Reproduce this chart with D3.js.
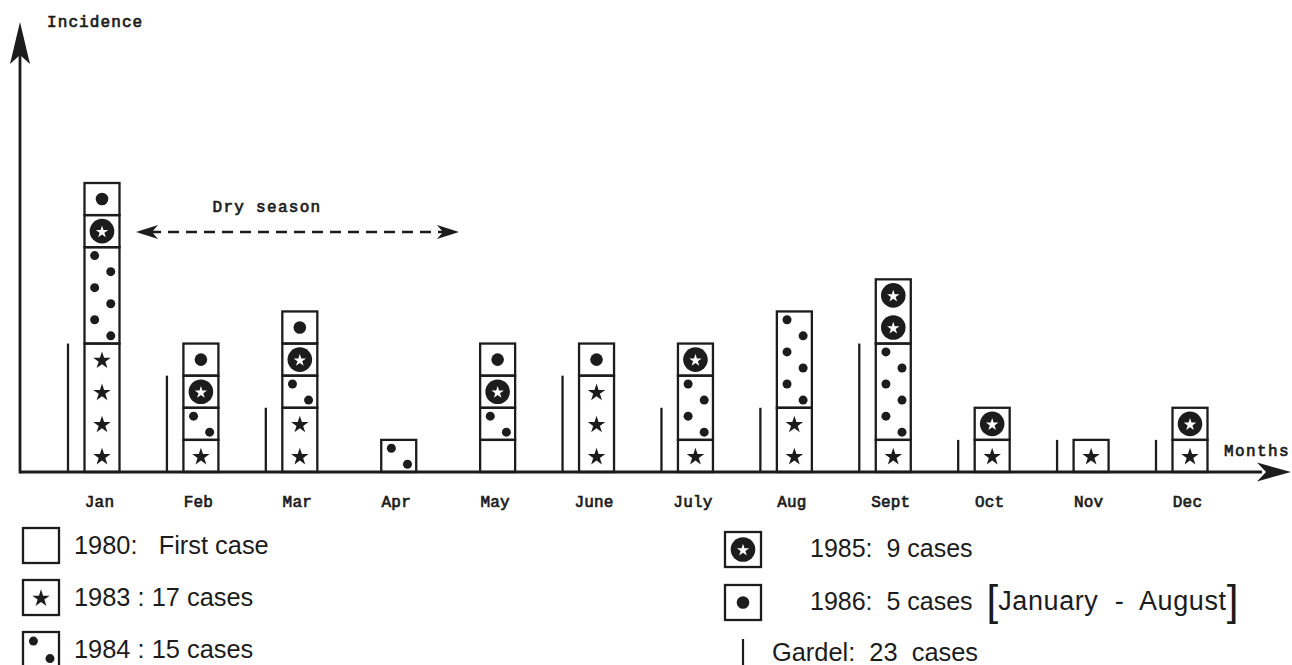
<!DOCTYPE html>
<html><head><meta charset="utf-8">
<script src="https://cdn.jsdelivr.net/npm/d3@7"></script>
<style>body{margin:0;background:#fff} svg{display:block}</style>
</head><body>
<svg id="chart" width="1292" height="665"></svg>
<script>
// ---- data ----
const months  = ["Jan","Feb","Mar","Apr","May","June","July","Aug","Sept","Oct","Nov","Dec"];
const years   = ["1980","1983","1984","1985","1986"];
const c1980   = [0,0,0,0,1,0,0,0,0,0,0,0];
const c1983   = [4,1,2,0,0,3,1,2,1,1,1,1];
const c1984   = [3,1,1,1,1,0,2,3,3,0,0,0];
const c1985   = [1,1,1,0,1,0,1,0,2,1,0,1];
const c1986   = [1,1,1,0,1,1,0,0,0,0,0,0];
const gardel  = [4,3,2,0,0,3,2,2,4,1,1,1];
const legendLeft  = [["1980","1980:   First case"],["1983","1983 : 17 cases"],["1984","1984 : 15 cases"]];
const legendRight = [["1985","1985:  9 cases"],["1986","1986:  5 cases"]];
const gardelLabel = "Gardel:  23  cases";
const periodLabel = "January  -  August";

const ink = "#1c1c1c";
const svg = d3.select("#chart");

const x = d3.scalePoint().domain(months).range([102, 1190]);
const y = d3.scaleLinear().domain([0, 9]).range([472, 183]);
const barW = 35;

const table = months.map((m, i) => ({month: m, "1980": c1980[i], "1983": c1983[i], "1984": c1984[i], "1985": c1985[i], "1986": c1986[i]}));
const stacked = d3.stack().keys(years)(table);

function drawSymbol(g, key, x0, top, w, h) {
  const cx = x0 + w / 2, cy = top + h / 2;
  if (key === "1983") {
    g.append("path").attr("d", d3.symbol().type(d3.symbolStar).size(95)())
      .attr("transform", `translate(${cx},${cy + 1})`).attr("fill", ink);
  } else if (key === "1984") {
    g.append("circle").attr("cx", x0 + w * 0.29).attr("cy", top + h * 0.26).attr("r", 4.5).attr("fill", ink);
    g.append("circle").attr("cx", x0 + w * 0.75).attr("cy", top + h * 0.76).attr("r", 4.5).attr("fill", ink);
  } else if (key === "1985") {
    g.append("circle").attr("cx", cx).attr("cy", cy).attr("r", 12.3).attr("fill", ink);
    g.append("path").attr("d", d3.symbol().type(d3.symbolStar).size(48)())
      .attr("transform", `translate(${cx},${cy + 0.8})`).attr("fill", "#fff");
  } else if (key === "1986") {
    g.append("circle").attr("cx", cx).attr("cy", cy).attr("r", 6.3).attr("fill", ink);
  }
}

// ---- Gardel lines ----
svg.append("g").selectAll("line")
  .data(months.map((m, i) => ({m, v: gardel[i]})).filter(d => d.v > 0))
  .join("line")
  .attr("x1", d => x(d.m) - 34).attr("x2", d => x(d.m) - 34)
  .attr("y1", y(0)).attr("y2", d => y(d.v))
  .attr("stroke", ink).attr("stroke-width", 2.3);

// ---- stacked blocks ----
const gb = svg.append("g");
stacked.forEach(layer => {
  layer.forEach((d, i) => {
    const n = d[1] - d[0];
    if (!n) return;
    const x0 = x(months[i]) - barW / 2;
    for (let k = 0; k < n; k++) {
      const top = y(d[0] + k + 1), bot = y(d[0] + k);
      drawSymbol(gb, layer.key, x0, top, barW, bot - top);
    }
    gb.append("rect").attr("x", x0).attr("y", y(d[1])).attr("width", barW)
      .attr("height", y(d[0]) - y(d[1]))
      .attr("fill", "none").attr("stroke", ink).attr("stroke-width", 2.3);
  });
});

// ---- axes ----
const monoFont = "'Liberation Mono', 'DejaVu Sans Mono', monospace";
function mono(sel, size, ls) {
  return sel.attr("font-family", monoFont).attr("font-size", size).attr("fill", ink)
    .attr("stroke", ink).attr("stroke-width", 0.7).attr("letter-spacing", ls);
}
const xAxis = svg.append("g").attr("transform", `translate(0,${y(0)})`)
  .call(d3.axisBottom(x).tickSize(0).tickPadding(24));
xAxis.select(".domain").remove();
mono(xAxis.selectAll("text"), 16, 0.2).attr("dx", -3);

svg.append("line").attr("x1", 20).attr("x2", 1262).attr("y1", y(0)).attr("y2", y(0))
  .attr("stroke", ink).attr("stroke-width", 2.8);
svg.append("path").attr("d", `M1291,${y(0)} L1257,${y(0) - 9.5} L1266,${y(0)} L1257,${y(0) + 9.5} Z`).attr("fill", ink);

svg.append("line").attr("x1", 20).attr("x2", 20).attr("y1", y(0) + 1.4).attr("y2", 50)
  .attr("stroke", ink).attr("stroke-width", 2.8);
svg.append("path").attr("d", `M20,22 L30,64 L20,55 L10,64 Z`).attr("fill", ink);

mono(svg.append("text").attr("x", 47).attr("y", 27).text("Incidence"), 16, 1.1);
mono(svg.append("text").attr("x", 1224).attr("y", 456).text("Months"), 16, 1.4);

// ---- Dry season ----
mono(svg.append("text").attr("x", 267).attr("y", 212).attr("text-anchor", "middle").text("Dry season"), 16, 1.3);
svg.append("line").attr("x1", 150).attr("x2", 446).attr("y1", 232).attr("y2", 232)
  .attr("stroke", ink).attr("stroke-width", 2.6).attr("stroke-dasharray", "11,7");
svg.append("path").attr("d", "M136,232 L158,225 L152,232 L158,239 Z").attr("fill", ink);
svg.append("path").attr("d", "M459,232 L437,225 L443,232 L437,239 Z").attr("fill", ink);

// ---- legend ----
const sansFont = "'Liberation Sans', Arial, Helvetica, sans-serif";
const lg = svg.append("g");
legendLeft.forEach((d, i) => {
  const top = 528 + i * 52;
  drawSymbol(lg, d[0], 23, top, 36, 35);
  lg.append("rect").attr("x", 23).attr("y", top).attr("width", 36).attr("height", 35)
    .attr("fill", "none").attr("stroke", ink).attr("stroke-width", 2.3);
  lg.append("text").attr("x", 74).attr("y", top + 26).text(d[1])
    .style("white-space", "pre")
    .attr("font-family", sansFont).attr("font-size", 25.4).attr("fill", ink);
});
legendRight.forEach((d, i) => {
  const top = 532 + i * 53;
  drawSymbol(lg, d[0], 725, top, 36, 35);
  lg.append("rect").attr("x", 725).attr("y", top).attr("width", 36).attr("height", 35)
    .attr("fill", "none").attr("stroke", ink).attr("stroke-width", 2.3);
  const t = lg.append("text").attr("x", 810).attr("y", top + 25).style("white-space", "pre")
    .attr("font-family", sansFont).attr("font-size", 25).attr("fill", ink);
  t.append("tspan").text(d[1]);
  if (d[0] === "1986") {
    t.append("tspan").text("  ");
    t.append("tspan").text("[").attr("font-size", 42).attr("font-weight", 300).attr("dy", 5);
    t.append("tspan").text(periodLabel).attr("dy", -5).attr("font-size", 27).attr("letter-spacing", 0.6);
    t.append("tspan").text("]").attr("font-size", 42).attr("font-weight", 300).attr("dy", 5);
  }
});
lg.append("line").attr("x1", 743).attr("x2", 743).attr("y1", 639).attr("y2", 665)
  .attr("stroke", ink).attr("stroke-width", 2.2);
lg.append("text").attr("x", 772).attr("y", 661).text(gardelLabel).style("white-space", "pre")
  .attr("font-family", sansFont).attr("font-size", 25.4).attr("fill", ink);
</script>
</body></html>
